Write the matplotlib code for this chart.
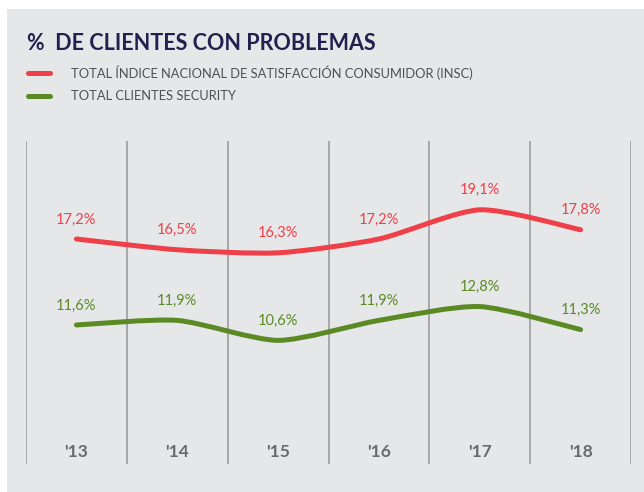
import matplotlib
matplotlib.use('Agg')
import matplotlib.pyplot as plt
import matplotlib.transforms as mtransforms
from matplotlib.path import Path
from matplotlib.patches import PathPatch, Rectangle

# data
years = ["'13", "'14", "'15", "'16", "'17", "'18"]
insc = [17.2, 16.5, 16.3, 17.2, 19.1, 17.8]
security = [11.6, 11.9, 10.6, 11.9, 12.8, 11.3]
insc_labels = ['17,2%', '16,5%', '16,3%', '17,2%', '19,1%', '17,8%']
security_labels = ['11,6%', '11,9%', '10,6%', '11,9%', '12,8%', '11,3%']

RED = '#ef3f48'
GREEN = '#5b8a24'
BG = '#e6e7e9'
FONT = 'Lato'


def smooth_path(xs, ys, k=0.12):
    # catmull-rom style bezier through the data points
    verts = [(xs[0], ys[0])]
    codes = [Path.MOVETO]
    n = len(xs)
    for i in range(n - 1):
        x0, y0 = (xs[i - 1], ys[i - 1]) if i > 0 else (xs[i], ys[i])
        x1, y1 = xs[i], ys[i]
        x2, y2 = xs[i + 1], ys[i + 1]
        x3, y3 = (xs[i + 2], ys[i + 2]) if i + 2 < n else (x2, y2)
        c1 = (x1 + (x2 - x0) * k, y1 + (y2 - y0) * k)
        c2 = (x2 - (x3 - x1) * k, y2 - (y3 - y1) * k)
        verts += [c1, c2, (x2, y2)]
        codes += [Path.CURVE4] * 3
    return Path(verts, codes)


fig = plt.figure(figsize=(6.44, 4.92), dpi=100)
fig.patch.set_facecolor('white')
fig.patches.append(Rectangle((7 / 644, 0), 1, 1 - 9 / 492, transform=fig.transFigure,
                             facecolor=BG, edgecolor='none', zorder=-10))

ax = fig.add_axes([26 / 644, 28 / 492, 605 / 644, 323 / 492])
ax.set_zorder(1)
ax.set_facecolor('none')
for s in ax.spines.values():
    s.set_visible(False)
ax.set_xticks([])
ax.set_yticks([])
ax.set_xlim(-0.5, len(years) - 0.5)
ax.set_ylim(2.55, 23.58)

for i in range(len(years) + 1):
    ax.axvline(i - 0.5, color='#a3a3a5', lw=1.3, zorder=1)

x = list(range(len(years)))
ax.add_patch(PathPatch(smooth_path(x, insc), facecolor='none', edgecolor=RED,
                       lw=3.6, capstyle='round', zorder=3))
ax.add_patch(PathPatch(smooth_path(x, security), facecolor='none', edgecolor=GREEN,
                       lw=3.6, capstyle='round', zorder=3))

for xi, v, lab in zip(x, insc, insc_labels):
    ax.annotate(lab, (xi, v), xytext=(0, 9), textcoords='offset points',
                ha='center', va='bottom', color=RED, fontsize=10.5, family=FONT)
for xi, v, lab in zip(x, security, security_labels):
    ax.annotate(lab, (xi, v), xytext=(0, 9), textcoords='offset points',
                ha='center', va='bottom', color=GREEN, fontsize=10.5, family=FONT)

trans = mtransforms.blended_transform_factory(ax.transData, ax.transAxes)
for xi, yr in zip(x, years):
    ax.text(xi, 0.037, yr, transform=trans, ha='center', va='center',
            fontsize=12.5, fontweight='bold', color='#6a6a6c', family=FONT)

# title and legend
fig.text(27 / 644, 1 - 43 / 492, '%  DE CLIENTES CON PROBLEMAS', ha='left', va='center',
         fontsize=15.5, fontweight='bold', color='#231f4f', family=FONT)
fig.add_artist(plt.Line2D([28 / 644, 50 / 644], [1 - 73 / 492] * 2, color=RED, lw=3.6,
                          solid_capstyle='round', transform=fig.transFigure))
fig.add_artist(plt.Line2D([28 / 644, 50 / 644], [1 - 96 / 492] * 2, color=GREEN, lw=3.6,
                          solid_capstyle='round', transform=fig.transFigure))
fig.text(71 / 644, 1 - 73 / 492, 'TOTAL ÍNDICE NACIONAL DE SATISFACCIÓN CONSUMIDOR (INSC)',
         ha='left', va='center', fontsize=9.3, color='#505052', family=FONT)
fig.text(71 / 644, 1 - 96 / 492, 'TOTAL CLIENTES SECURITY',
         ha='left', va='center', fontsize=9.3, color='#505052', family=FONT)

plt.savefig('out.png', dpi=100, facecolor=fig.get_facecolor())
